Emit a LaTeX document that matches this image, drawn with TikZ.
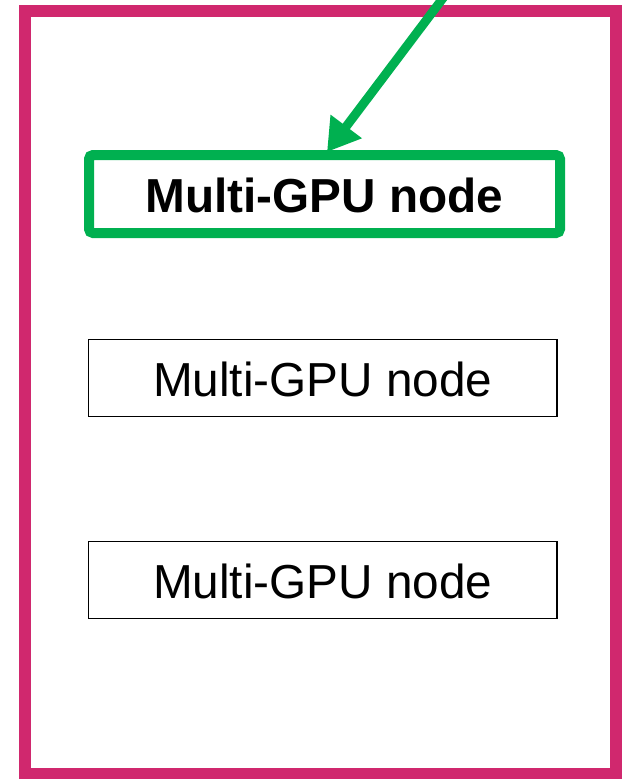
\documentclass[tikz,border=0pt]{standalone}
\usepackage{fontspec}
\setmainfont{Liberation Sans}
\usetikzlibrary{arrows.meta}
\definecolor{framemag}{RGB}{208,40,110}
\definecolor{hlgreen}{RGB}{0,176,80}
\tikzset{
  nodebox/.style={draw=black, line width=1.5pt, rectangle, inner sep=0pt,
    minimum width=468.5pt, minimum height=77pt,
    font=\fontsize{47.7pt}{50pt}\selectfont, text height=37pt, text depth=0pt},
  hlbox/.style={draw=hlgreen, line width=10pt, rectangle, rounded corners=4pt,
    inner sep=0pt, minimum width=471pt, minimum height=78pt,
    font=\fontsize{47.7pt}{50pt}\selectfont\bfseries, text height=37pt, text depth=0pt},
  hlarrow/.style={draw=hlgreen, line width=9pt,
    -{Triangle[length=32pt,width=37pt]}},
}
\begin{document}
\begin{tikzpicture}[x=1pt,y=-1pt]
  \useasboundingbox (0,0) rectangle (628,779);
  \begin{scope}
    \clip (0,0) rectangle (628,779);
    % outer frame
    \draw[framemag, line width=12pt] (25,11) rectangle (616,773.5);
    % stacked nodes
    \node[hlbox]   (gpuA) at (324.5,194)  {Multi-GPU node};
    \node[nodebox] (gpuB) at (322.75,377.75) {Multi-GPU node};
    \node[nodebox] (gpuC) at (322.75,580) {Multi-GPU node};
    % incoming pointer
    \coordinate (src) at (456.6,-20);
    \coordinate (tip) at (327,152);
    \draw[hlarrow] (src) -- (tip);
  \end{scope}
\end{tikzpicture}
\end{document}
